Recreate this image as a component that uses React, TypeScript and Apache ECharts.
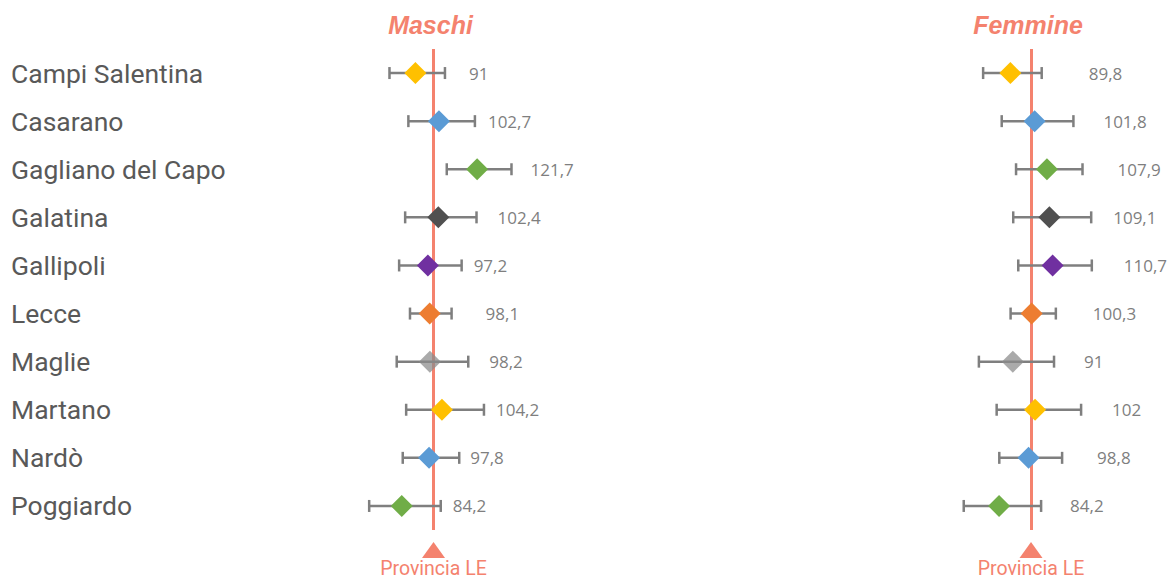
import React, { useEffect, useRef } from 'react';
import * as echarts from 'echarts';

const CATEGORIES = ['Campi Salentina', 'Casarano', 'Gagliano del Capo', 'Galatina', 'Gallipoli', 'Lecce', 'Maglie', 'Martano', 'Nardò', 'Poggiardo'];
const MALE_VALUES = [91, 102.7, 121.7, 102.4, 97.2, 98.1, 98.2, 104.2, 97.8, 84.2];
const MALE_LOW = [78.1, 87.5, 106.6, 85.9, 82.9, 88.3, 81.7, 86.4, 84.7, 68.0];
const MALE_HIGH = [105.7, 120.6, 138.8, 121.4, 114.0, 109.0, 117.3, 125.1, 112.8, 103.6];
const FEMALE_VALUES = [89.8, 101.8, 107.9, 109.1, 110.7, 100.3, 91, 102, 98.8, 84.2];
const FEMALE_LOW = [76.3, 85.5, 92.6, 91.2, 93.7, 89.9, 74.2, 83.0, 84.3, 66.7];
const FEMALE_HIGH = [105.3, 121.0, 125.5, 129.8, 130.1, 112.3, 111.4, 124.8, 115.4, 105.0];
const REFERENCE_VALUE = 100;
const REFERENCE_LABEL = 'Provincia LE';
const PANEL_TITLES = ['Maschi', 'Femmine'];

// styling (not data)
const POINT_COLORS = ['#FFC000', '#5B9BD5', '#70AD47', '#505050', '#7030A0', '#ED7D31', 'rgba(138,138,138,0.73)', '#FFC000', '#5B9BD5', '#70AD47'];
const LABEL_GAPS = [
  [24, 13, 19, 21, 12, 34, 21, 12, 11, 12],
  [47, 30, 35, 22, 32, 37, 30, 31, 35, 29],
];
const SALMON = '#F4826E';
const BAR_GRAY = '#7F7F7F';

const fmt = (v: number) => String(v).replace('.', ',');

export default function App() {
  const ref = useRef<HTMLDivElement>(null);
  useEffect(() => {
    document.body.style.margin = '0';
    const panels = [
      { values: MALE_VALUES, low: MALE_LOW, high: MALE_HIGH },
      { values: FEMALE_VALUES, low: FEMALE_LOW, high: FEMALE_HIGH },
    ];
    const grids = [
      { left: 333, width: 201, top: 49, height: 481 },
      { left: 930, width: 202, top: 49, height: 481 },
    ];
    const xAxes = panels.map((_, i) => ({
      type: 'value',
      gridIndex: i,
      min: 50,
      max: 150,
      position: 'top',
      name: PANEL_TITLES[i],
      nameLocation: 'middle',
      nameGap: 12,
      nameTextStyle: {
        color: SALMON, fontSize: 25, fontWeight: 'bold', fontStyle: 'italic', fontFamily: 'Liberation Sans',
        padding: [0, 6, 0, 0],
      },
      axisLine: { show: false },
      axisTick: { show: false },
      axisLabel: { show: false },
      splitLine: { show: false },
    }));
    const yAxes = panels.map((_, i) => ({
      type: 'category',
      gridIndex: i,
      data: CATEGORIES,
      inverse: true,
      axisLine: { show: false },
      axisTick: { show: false },
      splitLine: { show: false },
      axisLabel: i === 0
        ? { show: true, align: 'left', margin: 322, fontSize: 26.5, color: '#595959', fontFamily: 'Roboto' }
        : { show: false },
    }));
    const series: any[] = [];
    panels.forEach((p, i) => {
      series.push({
        type: 'custom',
        xAxisIndex: i,
        yAxisIndex: i,
        z: 2,
        data: CATEGORIES.map((_, k) => [p.low[k], k, p.high[k]]),
        renderItem: (params: any, api: any) => {
          const lo = api.coord([api.value(0), api.value(1)]);
          const hi = api.coord([api.value(2), api.value(1)]);
          const h = 6;
          const style = { stroke: BAR_GRAY, lineWidth: 2.5 };
          return {
            type: 'group',
            children: [
              { type: 'line', shape: { x1: lo[0], y1: lo[1], x2: hi[0], y2: hi[1] }, style },
              { type: 'line', shape: { x1: lo[0], y1: lo[1] - h, x2: lo[0], y2: lo[1] + h }, style },
              { type: 'line', shape: { x1: hi[0], y1: hi[1] - h, x2: hi[0], y2: hi[1] + h }, style },
            ],
          };
        },
      });
      series.push({
        type: 'scatter',
        xAxisIndex: i,
        yAxisIndex: i,
        z: 3,
        symbol: 'diamond',
        symbolSize: 22,
        data: p.values.map((v, k) => ({ value: [v, k], itemStyle: { color: POINT_COLORS[k], opacity: 1 } })),
        markLine: {
          silent: true,
          symbol: 'none',
          z: 1,
          label: { show: false },
          lineStyle: { color: SALMON, width: 3, type: 'solid', opacity: 1 },
          data: [{ xAxis: REFERENCE_VALUE }],
        },
      });
      series.push({
        type: 'scatter',
        xAxisIndex: i,
        yAxisIndex: i,
        z: 3,
        symbol: 'triangle',
        symbolSize: [23, 16],
        symbolOffset: [0, 44],
        itemStyle: { color: SALMON, opacity: 1 },
        label: {
          show: true,
          position: 'bottom',
          distance: 1,
          formatter: REFERENCE_LABEL,
          color: SALMON,
          opacity: 1,
          fontSize: 19.5,
          lineHeight: 19,
          fontFamily: 'Roboto',
        },
        data: [[REFERENCE_VALUE, CATEGORIES.length - 1]],
      });
      series.push({
        type: 'custom',
        xAxisIndex: i,
        yAxisIndex: i,
        z: 4,
        data: CATEGORIES.map((_, k) => [p.high[k], k, p.values[k]]),
        renderItem: (params: any, api: any) => {
          const pt = api.coord([api.value(0), api.value(1)]);
          const gap = LABEL_GAPS[i][params.dataIndex];
          return {
            type: 'text',
            x: pt[0] + gap,
            y: pt[1],
            style: {
              text: fmt(api.value(2)),
              fill: BAR_GRAY,
              fontSize: 17,
              fontFamily: 'Open Sans',
              align: 'left',
              verticalAlign: 'middle',
            },
          };
        },
      });
    });
    const chart = echarts.init(ref.current!, null, { renderer: 'svg' });
    chart.setOption({
      animation: false,
      backgroundColor: '#ffffff',
      grid: grids,
      xAxis: xAxes,
      yAxis: yAxes,
      series,
    });
    return () => chart.dispose();
  }, []);
  return <div ref={ref} style={{ width: 1169, height: 580 }} />;
}
